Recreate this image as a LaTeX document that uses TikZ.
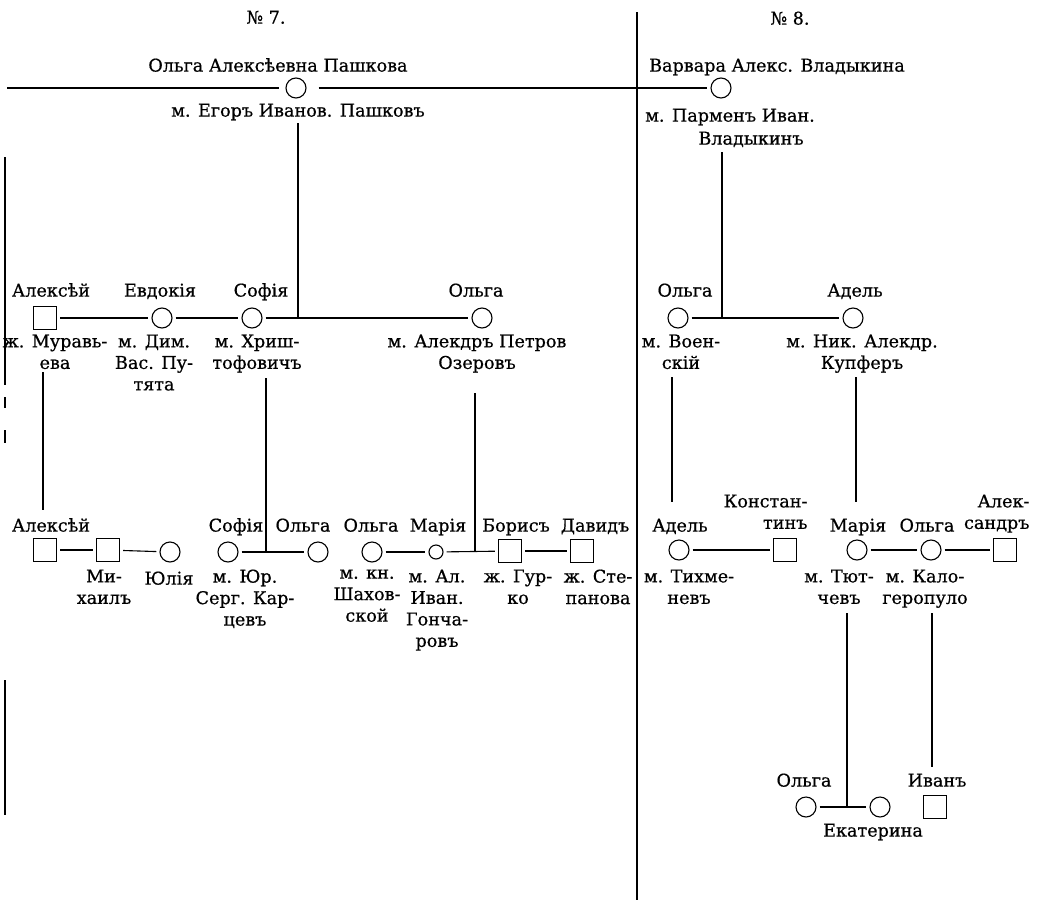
\documentclass[tikz,border=0pt]{standalone}
\usepackage{fontspec}
\setmainfont{DejaVu Serif}[BoldFont={DejaVu Serif},BoldFeatures={FakeBold=0.6}]
\begin{document}
\begin{tikzpicture}[x=1pt,y=-1pt, line width=1.1pt,
 fem/.style={circle,draw,minimum size=20pt,inner sep=0pt},
 male/.style={rectangle,draw,minimum size=23pt,inner sep=0pt},
 lbl/.style={align=center,anchor=north,inner sep=0pt,font=\fontsize{17.6}{21.5}\selectfont\bfseries, execute at begin node=\strut},
 rlbl/.style={lbl,align=right,anchor=north east},
 link/.style={shorten <=3pt,shorten >=3pt}]
\fill[white] (0,0) rectangle (1044,905);
\path[use as bounding box] (0,0) rectangle (1044,905);

% ---------- titles ----------
\node[lbl] (n7) at (266,8) {№ 7.};
\node[lbl] (n8) at (790,9) {№ 8.};

% ---------- generation 1 ----------
\node[fem] (oap) at (296,88) {};
\node[lbl] (oapN) at (278,56) {Ольга Алексѣевна Пашкова};
\node[lbl] (oapH) at (298,101) {м. Егоръ Иванов. Пашковъ};
\node[fem] (vav) at (721,88) {};
\node[lbl] (vavN) at (777,56) {Варвара Алекс. Владыкина};
\node[lbl] (vavH1) at (730,106) {м. Парменъ Иван.};
\node[lbl] (vavH2) at (751,129) {Владыкинъ};

\coordinate (Lend) at (7,88);
\coordinate (divT) at (637,12);
\coordinate (divB) at (637,900);

% ---------- generation 2 ----------
\node[male] (a1) at (45,318) {};
\node[fem] (e1) at (162,318) {};
\node[fem] (s1) at (252,318) {};
\node[fem] (o1) at (482,318) {};
\node[fem] (o2) at (678,318) {};
\node[fem] (ad1) at (853,318) {};

\node[lbl] (a1N) at (51,281) {Алексѣй};
\node[lbl] (e1N) at (160,281) {Евдокія};
\node[lbl] (s1N) at (261,281) {Софія};
\node[lbl] (o1N) at (476,281) {Ольга};
\node[lbl] (o2N) at (685,281) {Ольга};
\node[lbl] (ad1N) at (855,281) {Адель};

\node[lbl] (a1H) at (55,334) {ж. Муравь-\\ева};
\node[lbl] (e1H) at (154,334) {м. Дим.\\Вас. Пу-\\тята};
\node[lbl] (s1H) at (257,334) {м. Хриш-\\тофовичъ};
\node[lbl] (o1H) at (477,334) {м. Алекдръ Петров\\Озеровъ};
\node[lbl] (o2H) at (681,334) {м. Воен-\\скій};
\node[lbl] (ad1H) at (862,334) {м. Ник. Алекдр.\\Купферъ};

\coordinate (j1t) at (298,123);
\coordinate (j1) at (298,318);
\coordinate (j2t) at (722,152);
\coordinate (j2) at (722,318);

% ---------- generation 3 ----------
\node[male] (a2) at (45,550) {};
\node[male] (m2) at (108,550) {};
\node[fem] (y2) at (170,552) {};
\node[fem] (s2) at (228,552) {};
\node[fem] (o3) at (318,552) {};
\node[fem] (o4) at (372,552) {};
\node[fem,minimum size=14pt] (ma2) at (436,552) {};
\node[male] (b2) at (510,551) {};
\node[male] (d2) at (582,551) {};
\node[fem] (ad2) at (679,550) {};
\node[male] (k2) at (785,550) {};
\node[fem] (ma3) at (857,550) {};
\node[fem] (o5) at (931,550) {};
\node[male] (al2) at (1005,550) {};

\node[lbl] (a2N) at (51,516) {Алексѣй};
\node[lbl] (s2N) at (236,516) {Софія};
\node[lbl] (o3N) at (303,516) {Ольга};
\node[lbl] (o4N) at (371,516) {Ольга};
\node[lbl] (ma2N) at (438,516) {Марія};
\node[lbl] (b2N) at (516,516) {Борисъ};
\node[lbl] (d2N) at (595,516) {Давидъ};
\node[lbl] (ad2N) at (680,516) {Адель};
\node[rlbl] (k2N) at (808,494) {Констан-\\тинъ};
\node[lbl] (ma3N) at (858,516) {Марія};
\node[lbl] (o5N) at (927,516) {Ольга};
\node[rlbl] (al2N) at (1030,494) {Алек-\\сандръ};

\node[lbl] (m2H) at (104,569) {Ми-\\хаилъ};
\node[lbl] (y2N) at (169,569) {Юлія};
\node[lbl] (s2H) at (245,569) {м. Юр.\\Серг. Кар-\\цевъ};
\node[lbl] (o4H) at (367,569) {м. кн.\\Шахов-\\ской};
\node[lbl] (ma2H) at (437,569) {м. Ал.\\Иван.\\Гонча-\\ровъ};
\node[lbl] (b2H) at (518,569) {ж. Гур-\\ко};
\node[lbl] (d2H) at (598,569) {ж. Сте-\\панова};
\node[lbl] (ad2H) at (689,569) {м. Тихме-\\невъ};
\node[lbl] (ma3H) at (839,569) {м. Тют-\\чевъ};
\node[lbl] (o5H) at (925,569) {м. Кало-\\геропуло};

\coordinate (va1t) at (43,372);
\coordinate (va1b) at (43,510);
\coordinate (vs1t) at (266,378);
\coordinate (j3) at (266,552);
\coordinate (vo1t) at (475,393);
\coordinate (j4) at (475,552);
\coordinate (vo2t) at (672,377);
\coordinate (vo2b) at (672,502);
\coordinate (vad1t) at (856,377);
\coordinate (vad1b) at (856,502);

% ---------- generation 4 ----------
\node[fem] (o6) at (806,807) {};
\node[fem] (ek) at (880,807) {};
\node[male] (iv) at (935,807) {};
\node[lbl] (o6N) at (804,771) {Ольга};
\node[lbl] (ivN) at (937,771) {Иванъ};
\node[lbl] (ekN) at (873,821) {Екатерина};

\coordinate (vma3t) at (847,613);
\coordinate (j5) at (847,807);
\coordinate (vo5t) at (932,613);
\coordinate (vo5b) at (932,767);

% ---------- borders ----------
\draw (divT) -- (divB);
\coordinate (b1) at (5,157); \coordinate (b2e) at (5,385);
\coordinate (b3) at (5,397); \coordinate (b4) at (5,408);
\coordinate (b5) at (5,430); \coordinate (b6) at (5,443);
\coordinate (b7) at (5,680); \coordinate (b8) at (5,815);
\draw (b1) -- (b2e); \draw (b3) -- (b4); \draw (b5) -- (b6); \draw (b7) -- (b8);

% ---------- connectors ----------
\draw[shorten >=6pt] (Lend) -- (oap);
\draw[shorten <=12pt,shorten >=3pt] (oap) -- (vav);
\draw (j1t) -- (j1);
\draw (j2t) -- (j2);

\draw[link] (a1) -- (e1);
\draw[link] (e1) -- (s1);
\draw[link] (s1) -- (o1);
\draw[link] (o2) -- (ad1);

\draw (va1t) -- (va1b);
\draw (vs1t) -- (j3);
\draw (vo1t) -- (j4);
\draw (vo2t) -- (vo2b);
\draw (vad1t) -- (vad1b);

\draw[link] (a2) -- (m2);
\draw[link] (m2) -- (y2);
\draw[link] (s2) -- (o3);
\draw[link] (o4) -- (ma2);
\draw[link] (ma2) -- (b2);
\draw[link] (b2) -- (d2);
\draw[link] (ad2) -- (k2);
\draw[link] (ma3) -- (o5);
\draw[link] (o5) -- (al2);

\draw (vma3t) -- (j5);
\draw (vo5t) -- (vo5b);
\draw[link] (o6) -- (ek);
\end{tikzpicture}
\end{document}
